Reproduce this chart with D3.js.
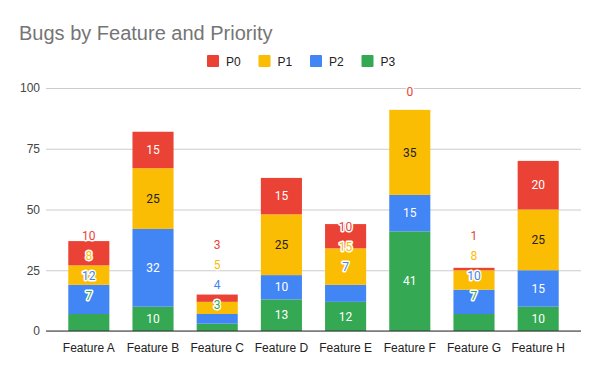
<!DOCTYPE html>
<html>
<head>
<meta charset="utf-8">
<script src="https://cdn.jsdelivr.net/npm/d3@7"></script>
<style>
  body { margin: 0; background: #fff; }
  svg { font-family: Arial, "Liberation Sans", sans-serif; }
</style>
</head>
<body>
<svg id="chart" width="600" height="371"></svg>
<script>
const features = ['Feature A', 'Feature B', 'Feature C', 'Feature D', 'Feature E', 'Feature F', 'Feature G', 'Feature H']
const priorities = ['P0', 'P1', 'P2', 'P3']
const p0 = [10, 15, 3, 15, 10, 0, 1, 20]
const p1 = [8, 25, 5, 25, 15, 35, 8, 25]
const p2 = [12, 32, 4, 10, 7, 15, 10, 15]
const p3 = [7, 10, 3, 13, 12, 41, 7, 10]
const yTicks = [0, 25, 50, 75, 100]

const colors = { P0: '#ea4335', P1: '#fbbc04', P2: '#4285f4', P3: '#34a853' }
const series = { P0: p0, P1: p1, P2: p2, P3: p3 }

const width = 600
const height = 371
const margin = { top: 88, right: 19, bottom: 40, left: 46 }
const axisFont = 'Arial, "Liberation Sans", sans-serif'

const svg = d3.select('#chart')

const rows = features.map((f, i) => ({ feature: f, P0: p0[i], P1: p1[i], P2: p2[i], P3: p3[i] }))
// stack bottom-up: P3, P2, P1, P0
const stackOrder = ['P3', 'P2', 'P1', 'P0']
const stacked = d3.stack().keys(stackOrder)(rows)

const x = d3.scaleBand()
  .domain(features)
  .range([margin.left, width - margin.right])
  .paddingInner(0.36)
  .paddingOuter(0.347)

const y = d3.scaleLinear()
  .domain([0, 100])
  .range([height - margin.bottom, margin.top])

// title
svg.append('text')
  .attr('x', 19)
  .attr('y', 40)
  .style('font-size', '20px')
  .style('fill', '#757575')
  .text('Bugs by Feature and Priority')

// legend
const legend = svg.append('g').attr('transform', 'translate(207, 55)')
priorities.forEach((p, i) => {
  const g = legend.append('g').attr('transform', `translate(${i * 51.5}, 0)`)
  g.append('rect').attr('width', 12).attr('height', 12).attr('rx', 1).attr('fill', colors[p])
  g.append('text')
    .attr('x', 19).attr('y', 10.5)
    .style('font-size', '12px')
    .style('fill', '#222')
    .text(p)
})

// gridlines + y axis
const yAxis = d3.axisLeft(y).tickValues(yTicks).tickSize(-(width - margin.left - margin.right)).tickPadding(6)
const yg = svg.append('g')
  .attr('transform', `translate(${margin.left}, 0)`)
  .call(yAxis)
yg.select('.domain').remove()
yg.selectAll('.tick line').attr('stroke', '#cccccc')
yg.selectAll('.tick text').style('font-size', '12px').style('fill', '#444').attr('font-family', axisFont)

// bars
svg.append('g')
  .selectAll('g')
  .data(stacked)
  .join('g')
  .attr('fill', d => colors[d.key])
  .selectAll('rect')
  .data(d => d)
  .join('rect')
  .attr('x', d => x(d.data.feature))
  .attr('width', x.bandwidth())
  .attr('y', d => y(d[1]))
  .attr('height', d => y(d[0]) - y(d[1]))

// baseline
svg.append('line')
  .attr('x1', margin.left).attr('x2', width - margin.right)
  .attr('y1', y(0)).attr('y2', y(0))
  .attr('stroke', '#333').attr('stroke-width', 1)

// x axis labels
const xAxis = d3.axisBottom(x).tickSize(0).tickPadding(12)
const xg = svg.append('g')
  .attr('transform', `translate(0, ${y(0)})`)
  .call(xAxis)
xg.select('.domain').remove()
xg.selectAll('.tick text').style('font-size', '12px').style('fill', '#222').attr('font-family', axisFont)

// data labels: small segments push their label above; collisions push upward
const labels = []
features.forEach((f, i) => {
  let prev = Infinity
  stackOrder.forEach(key => {
    const seg = stacked.find(s => s.key === key)[i]
    const top = y(seg[1])
    const bottom = y(seg[0])
    const h = bottom - top
    const fits = h >= 18
    let pos = fits ? (top + bottom) / 2 : top - 18.5
    let moved = !fits
    if (pos > prev - 20) { pos = prev - 20; moved = true }
    prev = pos
    labels.push({ feature: f, key, value: series[key][i], pos, moved })
  })
})

svg.append('g')
  .selectAll('text')
  .data(labels)
  .join('text')
  .attr('x', d => x(d.feature) + x.bandwidth() / 2)
  .attr('y', d => d.pos)
  .attr('dy', '0.35em')
  .attr('text-anchor', 'middle')
  .attr('font-family', 'Roboto, Arial, sans-serif')
  .style('font-size', '12px')
  .style('paint-order', 'stroke')
  .attr('stroke', d => d.moved ? '#fff' : 'none')
  .attr('stroke-width', d => d.moved ? 3 : 0)
  .attr('stroke-linejoin', 'round')
  .attr('fill', d => d.moved ? colors[d.key] : (d.key === 'P1' ? '#222' : '#fff'))
  .text(d => d.value)
</script>
</body>
</html>
